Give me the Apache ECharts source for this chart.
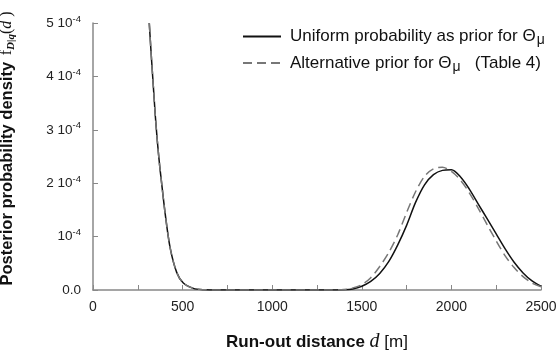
<!DOCTYPE html>
<html>
<head>
<meta charset="utf-8">
<script src="https://cdn.jsdelivr.net/npm/echarts@6/dist/echarts.min.js"></script>
<style>
  html, body { margin: 0; padding: 0; background: #fff; }
  #main { width: 558px; height: 356px; }
</style>
</head>
<body>
<div id="main"></div>
<script>
// run-out distance d [m]
const distances = [314, 325, 337, 348, 360, 372, 383, 402, 430, 467, 504, 560, 620, 700, 800, 900, 1000,
  1100, 1200, 1300, 1400, 1450, 1500, 1550, 1600, 1650, 1700, 1750, 1800, 1850, 1900, 1950, 2000,
  2050, 2100, 2150, 2200, 2250, 2300, 2350, 2400, 2450, 2500];
// posterior density, in units of 1e-4
const uniformPrior = [5.0, 4.4, 3.8, 3.25, 2.75, 2.33, 2.0, 1.45, 0.8, 0.33, 0.13, 0.03, 0.005, 0, 0, 0, 0,
  0, 0, 0, 0.005, 0.02, 0.07, 0.16, 0.31, 0.53, 0.84, 1.21, 1.64, 1.97, 2.16, 2.24, 2.25,
  2.12, 1.89, 1.61, 1.33, 1.05, 0.77, 0.52, 0.32, 0.17, 0.07];
const alternativePrior = [5.0, 4.4, 3.8, 3.25, 2.75, 2.33, 2.0, 1.45, 0.8, 0.33, 0.13, 0.03, 0.005, 0, 0, 0, 0,
  0, 0, 0, 0.01, 0.04, 0.10, 0.23, 0.44, 0.70, 1.03, 1.45, 1.84, 2.13, 2.27, 2.30, 2.22,
  2.06, 1.82, 1.53, 1.22, 0.92, 0.64, 0.42, 0.25, 0.13, 0.06];
const seriesNames = ['Uniform probability as prior for {t|Θ}{s|μ}', 'Alternative prior for {t|Θ}{s|μ}   (Table 4)'];

const pairs = (ys) => distances.map((d, i) => [d, ys[i]]);

const myChart = echarts.init(document.getElementById('main'));
const font = 'Liberation Sans, Arial, Helvetica, sans-serif';
const serif = 'Liberation Serif, serif';

option = {
  backgroundColor: '#fff',
  animation: false,
  textStyle: { fontFamily: font },
  grid: { left: 93, right: 17, top: 23, bottom: 66, outerBoundsMode: 'none' },
  legend: {
    orient: 'vertical',
    left: 237,
    top: 23,
    itemWidth: 38,
    itemHeight: 10,
    itemGap: 7,
    data: seriesNames,
    formatter: name => name,
    itemStyle: { opacity: 0 },
    textStyle: {
      fontSize: 17,
      color: '#111',
      fontFamily: font,
      padding: [0, 0, 0, 4],
      rich: {
        t: { fontSize: 17, color: '#111' },
        s: { fontSize: 14, color: '#111', padding: [8, 0, 0, 1] }
      }
    }
  },
  xAxis: {
    type: 'value',
    min: 0,
    max: 2500,
    interval: 250,
    name: '{b|Run-out distance }{d|d}{m| [m]}',
    nameLocation: 'middle',
    nameGap: 42,
    nameTextStyle: {
      rich: {
        b: { fontSize: 17, fontWeight: 'bold', color: '#111', fontFamily: font },
        d: { fontSize: 20, fontStyle: 'italic', color: '#111', fontFamily: serif },
        m: { fontSize: 17, color: '#111', fontFamily: font }
      }
    },
    axisLine: { lineStyle: { color: '#888', width: 1.5 } },
    axisTick: { inside: true, length: 5, lineStyle: { color: '#888' } },
    axisLabel: {
      fontSize: 14,
      color: '#222',
      margin: 10,
      formatter: v => (v % 500 === 0 ? String(v) : '')
    },
    splitLine: { show: false }
  },
  yAxis: {
    type: 'value',
    min: 0,
    max: 5,
    interval: 1,
    name: '{b|Posterior probability density}  {f|f}{sub|D|q}{p|(}{d|d}{p| )}',
    nameLocation: 'middle',
    nameRotate: 90,
    nameGap: 76,
    nameTextStyle: {
      padding: [0, 0, 0, 16],
      rich: {
        b: { fontSize: 16.5, fontWeight: 'bold', color: '#111', fontFamily: font },
        f: { fontSize: 16, color: '#111', fontFamily: serif },
        sub: { fontSize: 11, fontStyle: 'italic', fontWeight: 'bold', color: '#111', fontFamily: serif, padding: [9, 0, 0, 0] },
        p: { fontSize: 16, color: '#111', fontFamily: serif },
        d: { fontSize: 16, fontStyle: 'italic', color: '#111', fontFamily: serif }
      }
    },
    axisLine: { show: true, lineStyle: { color: '#888', width: 1.5 } },
    axisTick: { show: true, inside: true, length: 5, lineStyle: { color: '#888' } },
    axisLabel: {
      color: '#222',
      margin: 12,
      formatter: v => {
        if (v === 0) return '{n|0.0}';
        if (v === 1) return '{n|10}{sup|-4}';
        return '{n|' + v + ' 10}{sup|-4}';
      },
      rich: {
        n: { fontSize: 13.5, color: '#222', fontFamily: font },
        sup: { fontSize: 9.5, color: '#222', fontFamily: font, padding: [0, 0, 8, 0] }
      }
    },
    splitLine: { show: false }
  },
  series: [
    {
      name: seriesNames[0],
      type: 'line',
      data: pairs(uniformPrior),
      smooth: 0.3,
      symbol: 'none',
      lineStyle: { color: '#111', width: 1.5 },
      itemStyle: { color: '#111' }
    },
    {
      name: seriesNames[1],
      type: 'line',
      data: pairs(alternativePrior),
      smooth: 0.3,
      symbol: 'none',
      lineStyle: { color: '#777', width: 1.5, type: [9, 5] },
      itemStyle: { color: '#777' }
    }
  ]
};

myChart.setOption(option);
</script>
</body>
</html>
